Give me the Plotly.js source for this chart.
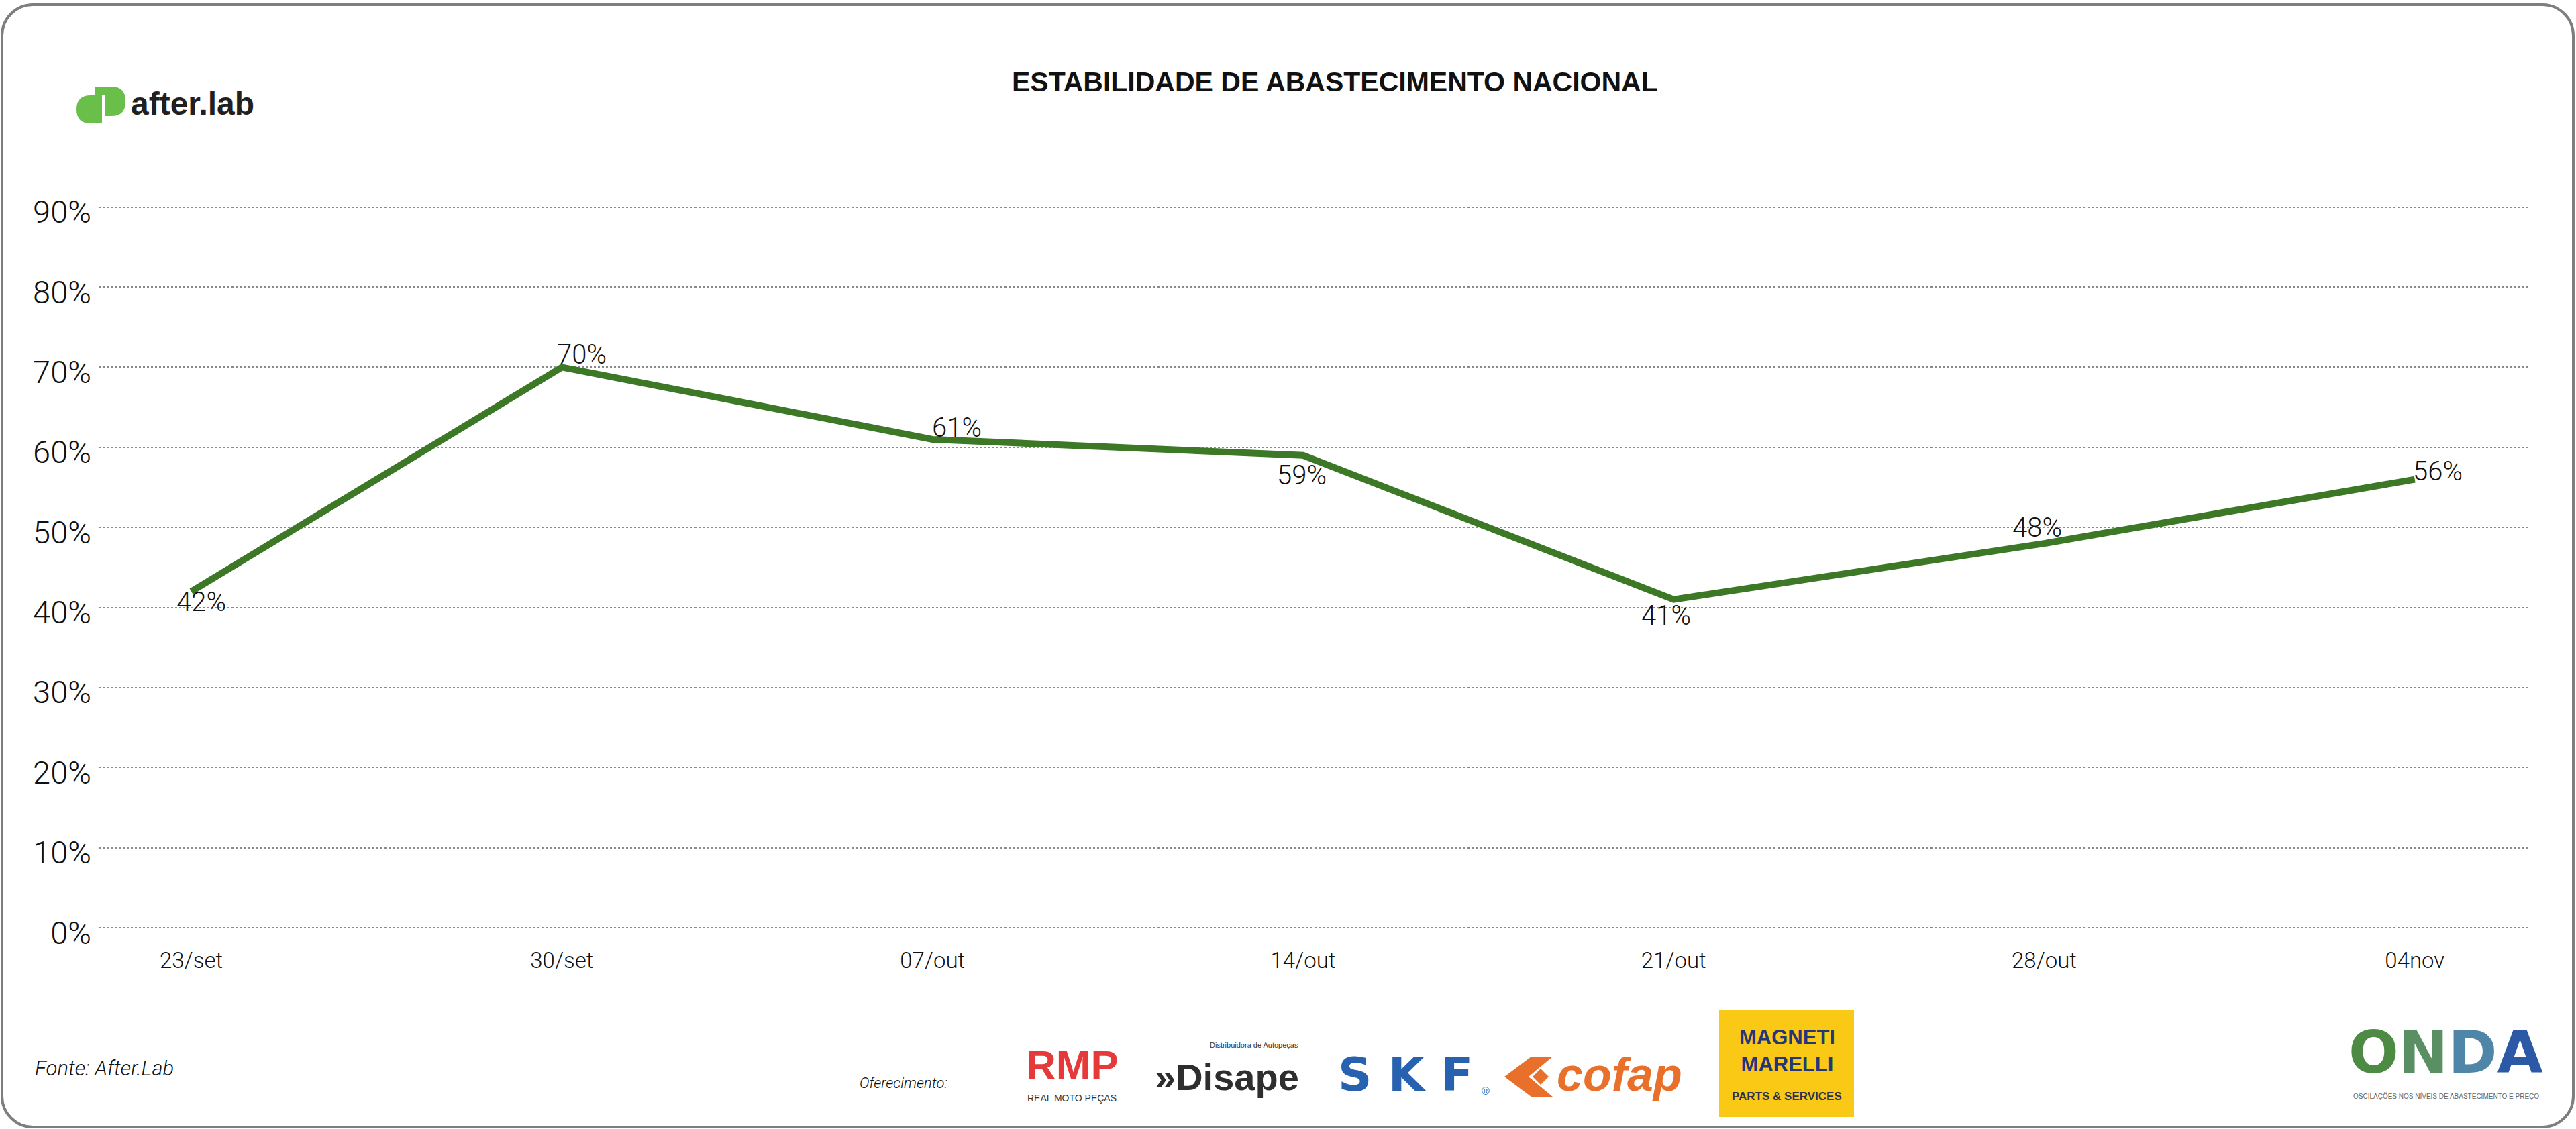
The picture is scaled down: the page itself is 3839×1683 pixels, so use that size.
<!DOCTYPE html>
<html>
<head>
<meta charset="utf-8">
<script src="https://cdn.plot.ly/plotly-3.0.1.min.js"></script>
<style>
  html, body { margin: 0; padding: 0; background: #ffffff; }
  #wrap { position: relative; width: 3839px; height: 1683px; overflow: hidden; }
  #chart { position: absolute; left: 0; top: 0; width: 3839px; height: 1683px; }
  #frame { position: absolute; left: 1px; top: 5px; width: 3836px; height: 1677px;
           box-sizing: border-box; border: 4px solid #7e7e7e; border-radius: 48px;
           pointer-events: none; }
</style>
</head>
<body>
<div id="wrap">
  <div id="chart"></div>
  <div id="frame"></div>
</div>
<script>
// ---- data ----
const weeks = ["23/set", "30/set", "07/out", "14/out", "21/out", "28/out", "04nov"];
const stability = [0.42, 0.70, 0.61, 0.59, 0.41, 0.48, 0.56];
const yTickValues = [0, 0.1, 0.2, 0.3, 0.4, 0.5, 0.6, 0.7, 0.8, 0.9];

// ---- label offsets (style, px) ----
const labelDX = [15, 30, 36, -2, -11, -11, 34];
const labelDY = [-16, 19, 17, -30, -24, 24, 12];

// ---- layout geometry (px) ----
const W = 3839, H = 1683;
const L = 147, R = 3770, T = 249, B = 1407;
const px = p => (p - L) / (R - L);
const py = p => (B - p) / (B - T);

const numFont = "Roboto, 'Open Sans', sans-serif";
const boldFont = "'Liberation Sans', Arial, sans-serif";

const annotations = [];
const shapes = [];

// data labels
weeks.forEach((w, i) => {
  annotations.push({
    x: w, y: stability[i], xref: 'x', yref: 'y',
    text: Math.round(stability[i] * 100) + '%',
    showarrow: false, xshift: labelDX[i], yshift: labelDY[i],
    font: { family: numFont, size: 40, color: '#111111', weight: 300 }
  });
});

function txt(text, xpx, ypx, size, color, opts) {
  opts = opts || {};
  annotations.push(Object.assign({
    x: px(xpx), y: py(ypx), xref: 'paper', yref: 'paper',
    text: text, showarrow: false, xanchor: 'left', yanchor: 'middle',
    font: { family: boldFont, size: size, color: color }
  }, opts));
}

// title
txt('<b>ESTABILIDADE DE ABASTECIMENTO NACIONAL</b>', 1990, 122, 41, '#111111',
    { xanchor: 'center' });

// after.lab logo
function pathFrom(points) {
  return points.map((p, i) => (p[0] === 'Q' ?
      'Q' + px(p[1]) + ',' + py(p[2]) + ' ' + px(p[3]) + ',' + py(p[4]) :
      (i === 0 ? 'M' : 'L') + px(p[0]) + ',' + py(p[1]))).join(' ') + ' Z';
}
// right piece (D shape, rounded on right)
shapes.push({ type: 'path', xref: 'paper', yref: 'paper', layer: 'above',
  path: pathFrom([[142,129],[166,129],['Q',187,129,187,150],[187,152],['Q',187,173,166,173],[156,173],[156,141],[142,141]]),
  fillcolor: '#6abf4b', line: { width: 0 } });
// left piece (rounded on left)
shapes.push({ type: 'path', xref: 'paper', yref: 'paper', layer: 'above',
  path: pathFrom([[152,142],[152,184],[135,184],['Q',114,184,114,163],[114,163],['Q',114,142,135,142]]),
  fillcolor: '#6abf4b', line: { width: 0 } });
txt('<b>after.lab</b>', 193, 154, 48, '#231f20');

// footer text
txt('<i>Fonte: After.Lab</i>', 50, 1592, 31, '#111111', { font: { family: numFont, size: 31, color: '#111111', weight: 300 } });
txt('<i>Oferecimento:</i>', 1279, 1614, 22, '#111111', { font: { family: numFont, size: 22, color: '#111111', weight: 300 } });

// RMP
txt('<b>RMP</b>', 1598, 1587, 62, '#e63a3a', { xanchor: 'center' });
txt('REAL MOTO PEÇAS', 1597, 1637, 14, '#333333', { xanchor: 'center' });

// Disape
txt('<b>»Disape</b>', 1828, 1605, 56, '#2e2e2e', { xanchor: 'center' });
txt('Distribuidora de Autopeças', 1937, 1558, 11, '#333333', { xanchor: 'right' });

// SKF
txt('<b>S K F</b>', 2094, 1602, 70, '#2662b0', { xanchor: 'center', font: { family: "'DejaVu Sans', sans-serif", size: 70, color: '#2662b0' } });
txt('®', 2214, 1626, 16, '#2662b0', { xanchor: 'center' });

// cofap
shapes.push({ type: 'path', xref: 'paper', yref: 'paper', layer: 'above',
  path: pathFrom([[2282,1575],[2314,1575],[2278,1605],[2314,1635],[2282,1635],[2242,1605]]),
  fillcolor: '#e8702a', line: { width: 0 } });
shapes.push({ type: 'path', xref: 'paper', yref: 'paper', layer: 'above',
  path: pathFrom([[2296,1593],[2308,1605],[2296,1617],[2284,1605]]),
  fillcolor: '#e8702a', line: { width: 0 } });
txt('<b><i>cofap</i></b>', 2318, 1602, 70, '#e8702a');

// Magneti Marelli
shapes.push({ type: 'rect', xref: 'paper', yref: 'paper', layer: 'above',
  x0: px(2562), x1: px(2763), y0: py(1665), y1: py(1505),
  fillcolor: '#f9c915', line: { width: 0 } });
txt('<b>MAGNETI<br>MARELLI</b>', 2663, 1566, 31, '#24357a', { xanchor: 'center' });
txt('<b>PARTS &amp; SERVICES</b>', 2663, 1634, 17, '#2f2f4f', { xanchor: 'center' });

// ONDA
txt('<b><span style="color:#4d8b45">O</span><span style="color:#5a8f63">N</span><span style="color:#4f86a8">D</span><span style="color:#2c59a6">A</span></b>',
    3645, 1568, 88, '#4d8b45', { xanchor: 'center', font: { family: "'DejaVu Sans', sans-serif", size: 88, color: '#4d8b45' } });
txt('OSCILAÇÕES NOS NÍVEIS DE ABASTECIMENTO E PREÇO', 3645, 1634, 10, '#666666', { xanchor: 'center' });

const trace = {
  type: 'scatter', mode: 'lines',
  x: weeks, y: stability,
  line: { color: '#3c7826', width: 10 },
  hoverinfo: 'skip', cliponaxis: false
};

const layout = {
  width: W, height: H, autosize: false,
  margin: { l: L, r: W - R, t: T, b: H - B, pad: 0 },
  paper_bgcolor: 'rgba(0,0,0,0)', plot_bgcolor: 'rgba(0,0,0,0)',
  showlegend: false,
  xaxis: {
    type: 'category', range: [-0.25, 6.31],
    showgrid: false, zeroline: false, showline: false, ticks: '',
    tickfont: { family: numFont, size: 33, color: '#111111', weight: 300 },
    ticklabelstandoff: 2
  },
  yaxis: {
    range: [-0.02, 0.95], tickvals: yTickValues, tickformat: '.0%',
    showgrid: true, gridcolor: '#8a8a8a', gridwidth: 2, griddash: 'dot',
    zeroline: false, showline: false, ticks: '',
    tickfont: { family: numFont, size: 47, color: '#111111', weight: 300 },
    ticklabelstandoff: 10, ticklabelshift: 7
  },
  annotations: annotations,
  shapes: shapes
};

Plotly.newPlot('chart', [trace], layout, { staticPlot: true, displayModeBar: false });
</script>
</body>
</html>
